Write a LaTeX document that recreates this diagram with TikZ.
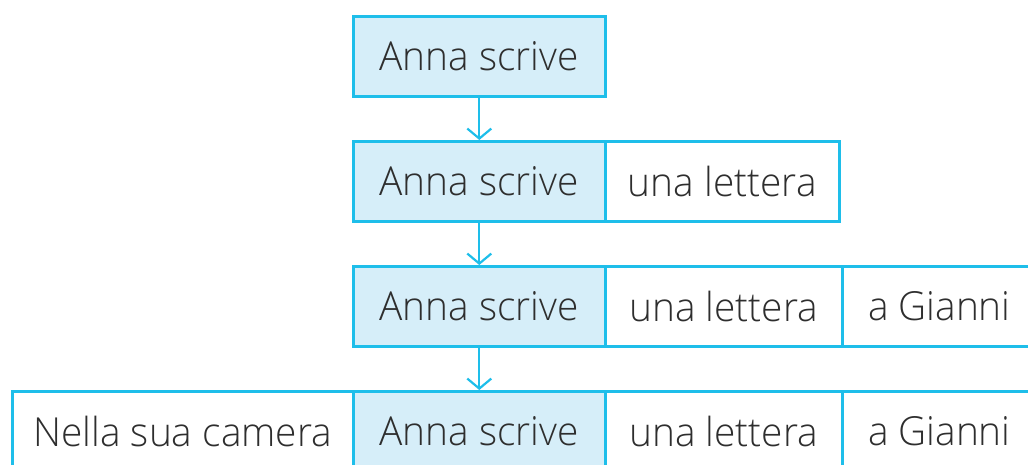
\documentclass[tikz,border=0pt]{standalone}
\usepackage{fontspec}
\setmainfont{Open Sans}[UprightFont=* Light,FakeStretch=0.97]
\usetikzlibrary{arrows.meta}
\definecolor{lineblue}{HTML}{1EBEEA}
\definecolor{fillblue}{HTML}{D6EEF9}
\definecolor{txt}{HTML}{2E2E2E}
\begin{document}
\begin{tikzpicture}[x=1pt,y=-1pt,
  cell/.style={draw=lineblue,line width=2.6pt,anchor=north west,minimum height=80pt,inner sep=0pt,
    text=txt,font=\fontsize{40}{44}\selectfont},
  subj/.style={cell,fill=fillblue,minimum width=252pt},
  arr/.style={draw=lineblue,line width=2.2pt,-{Straight Barb[length=10pt,width=24pt,line width=2.2pt]}}]
\useasboundingbox (0,0) rectangle (1028,464);
\clip (0,0) rectangle (1028,464);
% row 1
\node[subj] (a1) at (352,15) {Anna scrive};
% row 2
\node[subj] (a2) at (352,140) {Anna scrive};
\node[cell,minimum width=234pt] (b2) at (604,140) {una lettera};
% row 3
\node[subj] (a3) at (352,265) {Anna scrive};
\node[cell,minimum width=237pt] (b3) at (604,265) {una lettera};
\node[cell,minimum width=194pt] (c3) at (841,265) {a Gianni};
% row 4
\node[cell,minimum width=341pt] (d4) at (11,390) {Nella sua camera};
\node[subj] (a4) at (352,390) {Anna scrive};
\node[cell,minimum width=237pt] (b4) at (604,390) {una lettera};
\node[cell,minimum width=194pt] (c4) at (841,390) {a Gianni};
% arrows
\draw[arr] (a1.south) -- (a2.north);
\draw[arr] (a2.south) -- (a3.north);
\draw[arr] (a3.south) -- (a4.north);
\end{tikzpicture}
\end{document}
